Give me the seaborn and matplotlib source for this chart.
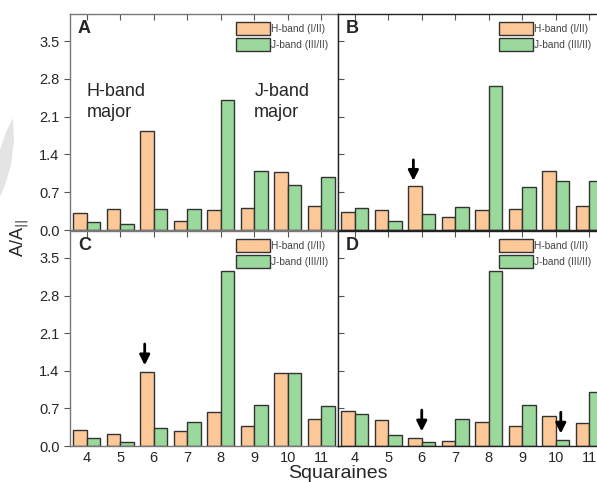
import numpy as np
import pandas as pd
import matplotlib
matplotlib.use("Agg")
import matplotlib.pyplot as plt
from matplotlib.patches import Polygon
import seaborn as sns

# squaraine numbers on the x axis
squaraines = [4, 5, 6, 7, 8, 9, 10, 11]
bands = ["H-band (I/II)", "J-band (III/II)"]

# ratios
A_h = [0.31, 0.38, 1.84, 0.17, 0.37, 0.40, 1.07, 0.45]
A_j = [0.14, 0.12, 0.38, 0.38, 2.40, 1.10, 0.84, 0.98]
B_h = [0.33, 0.37, 0.81, 0.24, 0.37, 0.39, 1.10, 0.44]
B_j = [0.40, 0.17, 0.29, 0.43, 2.66, 0.79, 0.90, 0.90]
C_h = [0.29, 0.22, 1.375, 0.27, 0.63, 0.38, 1.36, 0.50]
C_j = [0.14, 0.07, 0.33, 0.44, 3.25, 0.77, 1.35, 0.75]
D_h = [0.65, 0.48, 0.15, 0.09, 0.44, 0.38, 0.56, 0.43]
D_j = [0.59, 0.20, 0.08, 0.50, 3.25, 0.77, 0.105, 1.00]

yticks = [0.0, 0.7, 1.4, 2.1, 2.8, 3.5]
colors = ["#fcc898", "#9bd89c"]

sns.set_style("ticks")
plt.rcParams["font.family"] = ["Liberation Sans", "DejaVu Sans"]

fig = plt.figure(figsize=(5.97, 4.82), dpi=100)
W, H = 597, 482

def px_axes(x0, y_top, x1, y_bot):
    return fig.add_axes([x0 / W, 1 - y_bot / H, (x1 - x0) / W, (y_bot - y_top) / H])

# faint grey swoosh on the left edge
swoosh = [(0, 150), (6, 132), (13, 118), (14, 140), (11, 165), (5, 185), (0, 197)]
fig.patches.append(Polygon([(x / W, 1 - y / H) for x, y in swoosh], closed=True,
                           transform=fig.transFigure, facecolor="#e4e4e4",
                           edgecolor="none", zorder=0))

axA = px_axes(70, 14, 338, 230)
axB = px_axes(338, 14, 606, 230)
axC = px_axes(70, 231, 338, 446)
axD = px_axes(338, 231, 606, 446)

panels = [(axA, "A", A_h, A_j), (axB, "B", B_h, B_j),
          (axC, "C", C_h, C_j), (axD, "D", D_h, D_j)]

for ax, letter, h, j in panels:
    df = pd.DataFrame({
        "squaraine": squaraines * 2,
        "ratio": h + j,
        "band": [bands[0]] * len(h) + [bands[1]] * len(j),
    })
    sns.barplot(data=df, x="squaraine", y="ratio", hue="band", palette=colors,
                saturation=1, edgecolor="#333333", linewidth=1.0, width=0.8,
                gap=0, ax=ax)
    ax.set_xlim(-0.5, 7.5)
    ax.set_ylim(0, 4.0)
    ax.set_yticks(yticks)
    ax.set_xlabel("")
    ax.set_ylabel("")
    left = ax in (axA, axC)
    bottom = ax in (axC, axD)
    for s in ax.spines.values():
        s.set_visible(True)
        s.set_color("#777777" if left else "#222222")
        s.set_linewidth(1.0)
    ax.tick_params(axis="x", top=True, bottom=True, direction="in", length=4,
                   labelsize=10.5, labelbottom=bottom, color="#555555")
    ax.tick_params(axis="y", left=True, right=True, direction="out" if left else "in",
                   length=4, labelsize=10.5, labelleft=left, color="#555555")
    ax.set_yticklabels(["%.1f" % v for v in yticks] if left else [])
    ax.text(0.03, 0.97, letter, transform=ax.transAxes, fontsize=13,
            fontweight="bold", va="top", ha="left")
    leg = ax.legend(loc="upper right", fontsize=7.3, frameon=False,
                    handlelength=3.3, handleheight=1.6, handletextpad=0.15,
                    labelspacing=0.3, borderaxespad=0.4,
                    bbox_to_anchor=(0.995 if left else 0.975, 1.0))
    for t in leg.get_texts():
        t.set_color("#444444")

axA.text(0.0, 2.72, "H-band\nmajor", fontsize=13, va="top", ha="left",
         linespacing=1.3)
axA.text(5.0, 2.72, "J-band\nmajor", fontsize=13, va="top", ha="left",
         linespacing=1.3)

arrow = dict(arrowstyle="-|>,head_width=0.3,head_length=0.6", color="black", lw=2)
axB.annotate("", xy=(1.75, 0.86), xytext=(1.75, 1.35), arrowprops=arrow)
axC.annotate("", xy=(1.73, 1.45), xytext=(1.73, 1.95), arrowprops=arrow)
axD.annotate("", xy=(2.0, 0.22), xytext=(2.0, 0.72), arrowprops=arrow)
axD.annotate("", xy=(6.15, 0.18), xytext=(6.15, 0.68), arrowprops=arrow)

fig.text(20 / W, 1 - 238 / H, r"A/A$_{||}$", rotation=90, fontsize=13,
         ha="center", va="center")
fig.text(338 / W, 1 - 474 / H, "Squaraines", fontsize=14, ha="center",
         va="center")

fig.savefig("out.png", dpi=100)
